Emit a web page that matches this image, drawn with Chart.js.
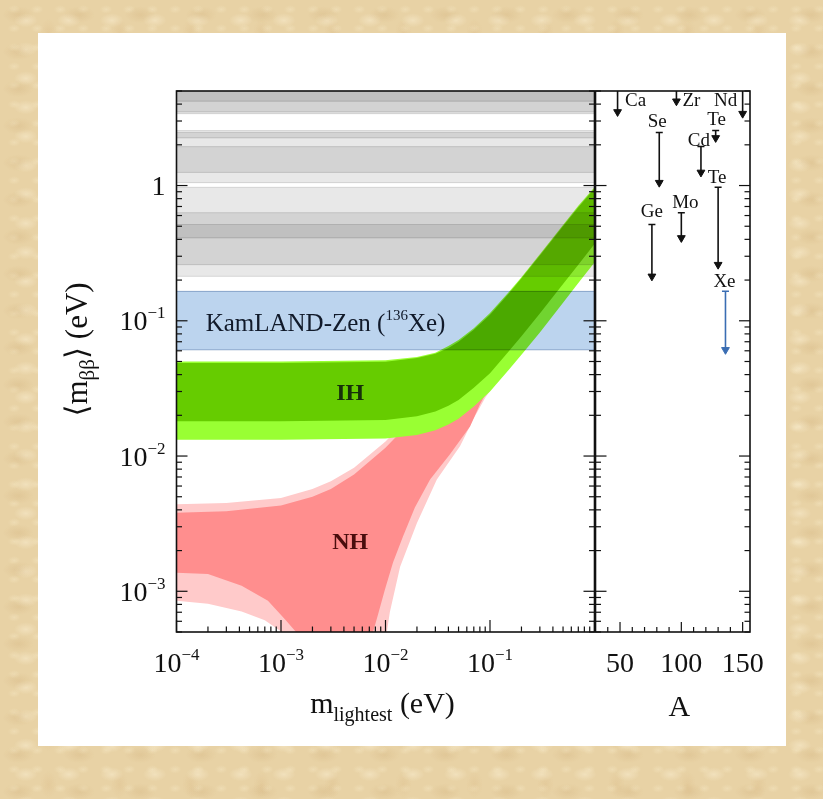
<!DOCTYPE html>
<html>
<head>
<meta charset="utf-8">
<script src="https://cdn.jsdelivr.net/npm/chart.js@4.4.1/dist/chart.umd.min.js"></script>
<style>
  html, body { margin: 0; padding: 0; }
  body {
    width: 823px; height: 799px; overflow: hidden; position: relative;
    background:
      radial-gradient(ellipse 22px 12px at 30% 40%, rgba(190,150,90,.18), transparent 70%) 0 0/61px 37px,
      radial-gradient(ellipse 17px 10px at 60% 70%, rgba(255,246,222,.40), transparent 70%) 0 0/43px 29px,
      radial-gradient(ellipse 12px 19px at 50% 50%, rgba(205,165,105,.16), transparent 70%) 13px 9px/71px 47px,
      radial-gradient(ellipse 9px 6px at 40% 60%, rgba(250,238,205,.35), transparent 70%) 5px 17px/23px 19px,
      #e8d2a5;
  }
  #sheet { position: absolute; left: 38px; top: 33px; width: 748px; height: 713px; background: #fff; }
  .box { position: absolute; top: 0; height: 799px; }
  #massBox { left: 0; width: 600px; }
  #isoBox { left: 590px; width: 233px; }
</style>
</head>
<body>
<div id="sheet"></div>
<div class="box" id="massBox"><canvas id="massChart"></canvas></div>
<div class="box" id="isoBox"><canvas id="isoChart"></canvas></div>
<script>
const SERIF = '"Liberation Serif", "DejaVu Serif", serif';
const INK = '#111';

// axis ranges (eV, and mass number A)
const M_MIN = 1e-4, M_MAX = 1;
const MBB_MIN = 5e-4, MBB_MAX = 5;
const A_MIN = 30, A_MAX = 156;

const xTickPowers = [-4, -3, -2, -1];
const yTickPowers = [0, -1, -2, -3];
const aTickLabels = [50, 100, 150];

// 0vbb limits per isotope: mass number, upper and lower end of the <m_bb> range (eV)
const isoNames = ['Ca', 'Ge', 'Se', 'Zr', 'Mo', 'Cd', 'Te', 'Te', 'Xe', 'Nd'];
const isoMass  = [48, 76, 82, 96, 100, 116, 128, 130, 136, 150];
const isoHigh  = [22, 0.515, 2.47, 10.4, 0.63, 1.94, 2.55, 0.97, 0.165, 10];
const isoLow   = [3.5, 0.213, 1.05, 4.2, 0.41, 1.25, 2.25, 0.26, 0.061, 3.4];
const KAMLAND = isoNames.indexOf('Xe');

// inverted hierarchy: 1 sigma (dark) and 3 sigma (light) edges
const ihMass   = [1e-4, 1e-3, 0.01, 0.02, 0.03, 0.04, 0.05, 0.07, 0.1, 0.15, 0.2, 0.3, 0.5, 0.7, 1];
const ihUpper3 = [0.050, 0.050, 0.051, 0.054, 0.058, 0.065, 0.072, 0.088, 0.114, 0.162, 0.21, 0.31, 0.51, 0.71, 0.97];
const ihUpper1 = [0.0488, 0.0488, 0.0498, 0.053, 0.057, 0.063, 0.070, 0.086, 0.111, 0.158, 0.206, 0.304, 0.50, 0.69, 0.95];
const ihLower1 = [0.0181, 0.0181, 0.0185, 0.0197, 0.0213, 0.0235, 0.026, 0.032, 0.041, 0.059, 0.077, 0.113, 0.187, 0.26, 0.37];
const ihLower3 = [0.0132, 0.0132, 0.0135, 0.0143, 0.0155, 0.0171, 0.0189, 0.0232, 0.030, 0.043, 0.056, 0.082, 0.136, 0.19, 0.27];

// normal hierarchy; CANCEL marks where <m_bb> drops to zero
const CANCEL = 1e-5;
const nhUpperMass = [1e-4, 3e-4, 1e-3, 2e-3, 3e-3, 5e-3, 0.01, 0.02, 0.03, 0.05, 0.1, 0.2, 0.5, 1];
const nhUpper3    = [0.0044, 0.0045, 0.0049, 0.0057, 0.0065, 0.0082, 0.0128, 0.022, 0.032, 0.052, 0.10, 0.20, 0.48, 0.90];
const nhUpper1    = [0.0038, 0.0039, 0.0043, 0.0050, 0.0057, 0.0073, 0.0115, 0.020, 0.029, 0.048, 0.095, 0.19, 0.47, 0.88];
const nhLower3Mass = [1e-4, 2e-4, 4.2e-4, 7e-4, 1.02e-3, 1.1e-3, 0.0100, 0.0103, 0.011, 0.0138, 0.020, 0.031, 0.0516, 0.07, 0.09, 0.12, 0.2, 0.5, 1];
const nhLower3     = [8.5e-4, 8.1e-4, 7.1e-4, 6.1e-4, 5.0e-4, CANCEL, CANCEL, 5.0e-4, 7.0e-4, 1.52e-3, 3.2e-3, 6.7e-3, 0.0118, 0.019, 0.027, 0.037, 0.062, 0.14, 0.28];
const nhLower1Mass = [1e-4, 2e-4, 4.2e-4, 7.5e-4, 1.09e-3, 1.46e-3, 1.6e-3, 7.3e-3, 7.6e-3, 8.47e-3, 9.88e-3, 0.0118, 0.0147, 0.0191, 0.0267, 0.0414, 0.0644, 0.08, 0.1, 0.2, 0.5, 1];
const nhLower1     = [1.37e-3, 1.34e-3, 1.10e-3, 8.5e-4, 6.2e-4, 4.8e-4, CANCEL, CANCEL, 5.0e-4, 6.7e-4, 1.03e-3, 1.63e-3, 2.54e-3, 4.16e-3, 6.7e-3, 0.0103, 0.0165, 0.024, 0.033, 0.07, 0.17, 0.35];

// where the in-plot labels sit (m_lightest, <m_bb>)
const ihLabelAt = [0.0046, 0.029];
const nhLabelAt = [0.0046, 0.0023];
const kamlandLabelAt = [1.9e-4, 0.094];
// isotope name offsets (px) from the top of each arrow
const isoLabelShift = [[18, 10], [0, -12], [-2, -10], [15, 10], [4, -10], [-2, -6], [1, -11], [-1, -9], [-1, -9], [-17, 10]];

const GREEN_DARK = '#66cc00', GREEN_LIGHT = '#99ff33';
const PINK_DARK = 'rgb(255,142,142)', PINK_LIGHT = 'rgb(255,202,202)';
const LIMIT_GRAY = 'rgb(232,232,232)';
const KAMLAND_BLUE = 'rgb(188,212,238)';
const XE_BLUE = '#3a6db3';

// blend mode per dataset; the filler has to run after it to pick it up
const blend = {
  id: 'blend',
  beforeDatasetDraw(chart, args) {
    chart.ctx.globalCompositeOperation = chart.data.datasets[args.index].blend || 'source-over';
  },
  afterDatasetDraw(chart) {
    chart.ctx.globalCompositeOperation = 'source-over';
  }
};
const filler = Chart.registry.getPlugin('filler');
Chart.unregister(filler);
Chart.register(blend, filler);

const big = (n, w) => `${w || ''} ${n}px ${SERIF}`;

function rich(ctx, parts, x, y, align) {
  let w = 0;
  for (const p of parts) { ctx.font = p.f; p.w = ctx.measureText(p.t).width; w += p.w; }
  let cx = align === 'right' ? x - w : align === 'center' ? x - w / 2 : x;
  ctx.textAlign = 'left';
  for (const p of parts) { ctx.font = p.f; ctx.fillText(p.t, cx, y + (p.dy || 0)); cx += p.w; }
}

function power(e) {
  if (e === 0) return [{ t: '1', f: big(28) }];
  return [{ t: '10', f: big(28) }, { t: '\u2212' + (-e), f: big(17), dy: -12 }];
}

function logTicks(scale) {
  const out = [];
  for (let e = Math.floor(Math.log10(scale.min)); e <= Math.ceil(Math.log10(scale.max)); e++) {
    for (let k = 1; k <= 9; k++) {
      const v = k * Math.pow(10, e);
      if (v >= scale.min * 0.999 && v <= scale.max * 1.001) out.push([v, k === 1]);
    }
  }
  return out;
}

function seg(ctx, x1, y1, x2, y2) {
  ctx.beginPath(); ctx.moveTo(x1, y1); ctx.lineTo(x2, y2); ctx.stroke();
}

const curve = (ms, vs) => ms.map((m, i) => ({ x: m, y: vs[i] }));
const flat = v => [{ x: M_MIN, y: v }, { x: M_MAX, y: v }];

function band(upper, lower, color, order, extra) {
  const base = { borderWidth: 0, borderColor: 'transparent', pointRadius: 0, tension: 0, order };
  return [
    Object.assign({}, base, { data: upper, fill: '+1', backgroundColor: color }, extra),
    Object.assign({}, base, { data: lower, fill: false }, extra)
  ];
}

// ---- left panel: <m_bb> vs m_lightest ----
const massSets = [
  ...band(curve(nhUpperMass, nhUpper3), curve(nhLower3Mass, nhLower3), PINK_LIGHT, 6),
  ...band(curve(nhUpperMass, nhUpper1), curve(nhLower1Mass, nhLower1), PINK_DARK, 5),
  ...band(curve(ihMass, ihUpper3), curve(ihMass, ihLower3), GREEN_LIGHT, 4),
  ...band(curve(ihMass, ihUpper1), curve(ihMass, ihLower1), GREEN_DARK, 3)
];
isoNames.forEach((name, i) => {
  if (i === KAMLAND) return;
  massSets.push(...band(flat(isoHigh[i]), flat(isoLow[i]), LIMIT_GRAY, 2,
    { blend: 'multiply', borderWidth: 1, borderColor: 'rgba(0,0,0,0.12)' }));
});
massSets.push(...band(flat(isoHigh[KAMLAND]), flat(isoLow[KAMLAND]), KAMLAND_BLUE, 1,
  { blend: 'multiply', borderWidth: 1, borderColor: 'rgba(90,125,175,0.55)' }));

const massAxes = {
  id: 'massAxes',
  afterDatasetsDraw(chart) {
    const { ctx, chartArea: a, scales: { x, y } } = chart;
    ctx.save();

    ctx.textBaseline = 'middle';
    ctx.fillStyle = '#111a2a';
    rich(ctx, [{ t: 'KamLAND-Zen (', f: big(25) }, { t: '136', f: big(15), dy: -8 }, { t: 'Xe)', f: big(25) }],
      x.getPixelForValue(kamlandLabelAt[0]), y.getPixelForValue(kamlandLabelAt[1]), 'left');
    ctx.fillStyle = '#17300a';
    rich(ctx, [{ t: 'IH', f: big(24, 'bold') }], x.getPixelForValue(ihLabelAt[0]), y.getPixelForValue(ihLabelAt[1]), 'center');
    ctx.fillStyle = '#4a0d0d';
    rich(ctx, [{ t: 'NH', f: big(24, 'bold') }], x.getPixelForValue(nhLabelAt[0]), y.getPixelForValue(nhLabelAt[1]), 'center');

    ctx.strokeStyle = INK;
    ctx.lineWidth = 1.6;
    ctx.strokeRect(a.left, a.top, a.right - a.left, a.bottom - a.top);

    ctx.lineWidth = 1.2;
    for (const [v, major] of logTicks(y)) {
      const py = y.getPixelForValue(v), len = major ? 11 : 5.5;
      seg(ctx, a.left, py, a.left + len, py);
      seg(ctx, a.right, py, a.right - len, py);
    }
    for (const [v, major] of logTicks(x)) {
      const px = x.getPixelForValue(v), len = major ? 12 : 5.5;
      seg(ctx, px, a.bottom, px, a.bottom - len);
    }

    ctx.fillStyle = INK;
    ctx.textBaseline = 'alphabetic';
    for (const e of yTickPowers) {
      rich(ctx, power(e), a.left - 11, y.getPixelForValue(Math.pow(10, e)) + 9.5, 'right');
    }
    for (const e of xTickPowers) {
      rich(ctx, power(e), x.getPixelForValue(Math.pow(10, e)), 672, 'center');
    }
    rich(ctx, [{ t: 'm', f: big(30) }, { t: 'lightest', f: big(20), dy: 8 }, { t: ' (eV)', f: big(30) }],
      (a.left + a.right) / 2 - 3, 713, 'center');

    ctx.translate(87, (a.top + a.bottom) / 2 - 12);
    ctx.rotate(-Math.PI / 2);
    rich(ctx, [{ t: '\u27e8m', f: big(31) }, { t: '\u03b2\u03b2', f: big(21), dy: 7 }, { t: '\u27e9 (eV)', f: big(31) }], 0, 0, 'center');
    ctx.restore();
  }
};

new Chart(document.getElementById('massChart'), {
  type: 'line',
  data: { datasets: massSets },
  options: {
    responsive: true,
    maintainAspectRatio: false,
    animation: false,
    events: [],
    layout: { padding: { left: 176.5, top: 91, right: 5.5, bottom: 167 } },
    scales: {
      x: { type: 'logarithmic', min: M_MIN, max: M_MAX, display: false },
      y: { type: 'logarithmic', min: MBB_MIN, max: MBB_MAX, display: false }
    },
    plugins: { legend: { display: false }, tooltip: { enabled: false } }
  },
  plugins: [massAxes]
});

// ---- right panel: limits per isotope vs A ----
const isoSets = isoNames.map((name, i) => {
  const color = i === KAMLAND ? XE_BLUE : INK;
  return {
    data: [{ x: isoMass[i], y: isoHigh[i] }, { x: isoMass[i], y: isoLow[i] }],
    borderColor: color,
    borderWidth: 1.6,
    fill: false,
    pointStyle: ['line', 'triangle'],
    pointRotation: [0, 180],
    pointRadius: [3.5, 4.5],
    pointBorderWidth: [1.5, 1],
    pointBorderColor: color,
    pointBackgroundColor: color
  };
});

const isoAxes = {
  id: 'isoAxes',
  afterDatasetsDraw(chart) {
    const { ctx, chartArea: a, scales: { x, y } } = chart;
    ctx.save();
    ctx.strokeStyle = INK;
    ctx.lineWidth = 1.6;
    ctx.strokeRect(a.left, a.top, a.right - a.left, a.bottom - a.top);

    ctx.lineWidth = 1.2;
    for (const [v, major] of logTicks(y)) {
      const py = y.getPixelForValue(v), len = major ? 11 : 5.5;
      seg(ctx, a.left, py, a.left + len, py);
      seg(ctx, a.right, py, a.right - len, py);
    }
    for (let A = 40; A <= A_MAX; A += 10) {
      const px = x.getPixelForValue(A), len = A % 50 === 0 ? 10 : 5;
      seg(ctx, px, a.bottom, px, a.bottom - len);
    }

    ctx.textBaseline = 'middle';
    isoNames.forEach((name, i) => {
      const px = x.getPixelForValue(isoMass[i]);
      const py = y.getPixelForValue(Math.min(isoHigh[i], MBB_MAX));
      ctx.fillStyle = INK;
      rich(ctx, [{ t: name, f: big(19) }], px + isoLabelShift[i][0], py + isoLabelShift[i][1], 'center');
    });

    ctx.fillStyle = INK;
    ctx.textBaseline = 'alphabetic';
    for (const A of aTickLabels) rich(ctx, [{ t: String(A), f: big(28) }], x.getPixelForValue(A), 672, 'center');
    rich(ctx, [{ t: 'A', f: big(30) }], x.getPixelForValue(100) - 2, 716, 'center');
    ctx.restore();
  }
};

new Chart(document.getElementById('isoChart'), {
  type: 'line',
  data: { datasets: isoSets },
  options: {
    responsive: true,
    maintainAspectRatio: false,
    animation: false,
    events: [],
    layout: { padding: { left: 5, top: 91, right: 73, bottom: 167 } },
    scales: {
      x: { type: 'linear', min: A_MIN, max: A_MAX, display: false },
      y: { type: 'logarithmic', min: MBB_MIN, max: MBB_MAX, display: false }
    },
    plugins: { legend: { display: false }, tooltip: { enabled: false } }
  },
  plugins: [isoAxes]
});
</script>
</body>
</html>
